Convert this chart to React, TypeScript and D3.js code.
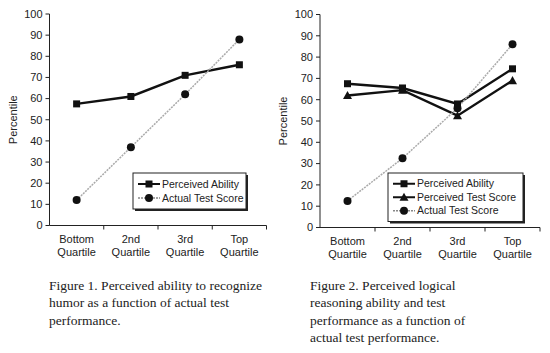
import React from "react";
import * as d3 from "d3";

const categories = ["Bottom|Quartile", "2nd|Quartile", "3rd|Quartile", "Top|Quartile"];
const yTicks = [0, 10, 20, 30, 40, 50, 60, 70, 80, 90, 100];

const fig1Perceived = [57.5, 61, 71, 76];
const fig1Actual = [12, 37, 62, 88];

const fig2PerceivedAbility = [67.5, 65.5, 58, 74.5];
const fig2PerceivedTest = [62, 64.5, 52.5, 69];
const fig2Actual = [12.5, 32.5, 56, 86];

const caption1 = ["Figure 1. Perceived ability to recognize", "humor as a function of actual test", "performance."];
const caption2 = ["Figure 2. Perceived logical", "reasoning ability and test", "performance as a function of", "actual test performance."];

type Series = { name: string; values: number[]; marker: "square" | "circle" | "triangle"; dotted: boolean };

const sansFont = "Liberation Sans, Arial, sans-serif";
const serifFont = "Liberation Serif, Times New Roman, serif";

function Marker({ type, x, y }: { type: string; x: number; y: number }) {
  if (type === "square") return <rect x={x - 3.5} y={y - 3.5} width={7} height={7} fill="#111" />;
  if (type === "circle") return <circle cx={x} cy={y} r={4} fill="#111" />;
  const s = 4.5;
  return <path d={`M${x},${y - s} L${x + s},${y + s * 0.8} L${x - s},${y + s * 0.8} Z`} fill="#111" />;
}

function Panel({ x0, x1, yTop, yBottom, series, legend }: {
  x0: number; x1: number; yTop: number; yBottom: number; series: Series[];
  legend: { x: number; y: number; w: number; rowH: number };
}) {
  const x = d3.scaleBand<string>().domain(categories).range([x0, x1]).paddingInner(0).paddingOuter(0);
  const y = d3.scaleLinear().domain([0, 100]).range([yBottom, yTop]);
  const bw = x.bandwidth();
  const cx = (c: string) => (x(c) as number) + bw / 2;
  const line = d3.line<number>().x((_, i) => cx(categories[i])).y((v) => y(v));
  const lh = legend.rowH * series.length + 8;
  return (
    <g>
      <line x1={x0} x2={x0} y1={yTop} y2={yBottom} stroke="#222" strokeWidth={1} />
      <line x1={x0} x2={x1} y1={yBottom} y2={yBottom} stroke="#222" strokeWidth={1} />
      {yTicks.map((t) => (
        <g key={t}>
          <line x1={x0 - 4} x2={x0} y1={y(t)} y2={y(t)} stroke="#222" />
          <text x={x0 - 7} y={y(t)} dy="0.35em" textAnchor="end" fontFamily={sansFont} fontSize={11} fill="#222">{t}</text>
        </g>
      ))}
      {categories.map((c) => (
        <g key={c}>
          <line x1={(x(c) as number) + bw} x2={(x(c) as number) + bw} y1={yBottom} y2={yBottom + 4} stroke="#222" />
          {c.split("|").map((part, j) => (
            <text key={j} x={cx(c)} y={yBottom + 17 + j * 13} textAnchor="middle" fontFamily={sansFont} fontSize={11} fill="#222">{part}</text>
          ))}
        </g>
      ))}
      <text transform={`translate(${x0 - 33},${(yTop + yBottom) / 2}) rotate(-90)`} textAnchor="middle" fontFamily={sansFont} fontSize={11} fill="#222">Percentile</text>
      {series.map((s) => (
        <path key={s.name} d={line(s.values) as string} fill="none"
          stroke={s.dotted ? "#aaa" : "#111"} strokeWidth={s.dotted ? 1.5 : 2.4}
          strokeDasharray={s.dotted ? "2,1" : undefined} />
      ))}
      {series.map((s) => s.values.map((v, i) => (
        <Marker key={s.name + i} type={s.marker} x={cx(categories[i])} y={y(v)} />
      )))}
      <rect x={legend.x + 2} y={legend.y + 2} width={legend.w} height={lh} fill="#222" />
      <rect x={legend.x} y={legend.y} width={legend.w} height={lh} fill="#fff" stroke="#222" strokeWidth={1} />
      {series.map((s, i) => {
        const ry = legend.y + 4 + legend.rowH * (i + 0.5);
        return (
          <g key={s.name}>
            <line x1={legend.x + 5} x2={legend.x + 27} y1={ry} y2={ry}
              stroke={s.dotted ? "#888" : "#111"} strokeWidth={s.dotted ? 1.3 : 2}
              strokeDasharray={s.dotted ? "2,1" : undefined} />
            <Marker type={s.marker} x={legend.x + 16} y={ry} />
            <text x={legend.x + 29} y={ry} dy="0.35em" fontFamily={sansFont} fontSize={10.5} fill="#222">{s.name}</text>
          </g>
        );
      })}
    </g>
  );
}

export default function App() {
  const s1: Series[] = [
    { name: "Perceived Ability", values: fig1Perceived, marker: "square", dotted: false },
    { name: "Actual Test Score", values: fig1Actual, marker: "circle", dotted: true },
  ];
  const s2: Series[] = [
    { name: "Perceived Ability", values: fig2PerceivedAbility, marker: "square", dotted: false },
    { name: "Perceived Test Score", values: fig2PerceivedTest, marker: "triangle", dotted: false },
    { name: "Actual Test Score", values: fig2Actual, marker: "circle", dotted: true },
  ];
  return (
    <svg width={550} height={353} style={{ position: "absolute", left: 0, top: 0, background: "#fff" }}>
      <rect width={550} height={353} fill="#fff" />
      <Panel x0={49.5} x1={266.5} yTop={14} yBottom={225.5} series={s1} legend={{ x: 133, y: 173, w: 113, rowH: 14 }} />
      <Panel x0={320} x1={540} yTop={14.5} yBottom={227.5} series={s2} legend={{ x: 388, y: 173, w: 135, rowH: 13.5 }} />
      {caption1.map((t, i) => (
        <text key={i} x={49} y={289.5 + i * 17.5} fontFamily={serifFont} fontSize={13.5} fill="#222">{t}</text>
      ))}
      {caption2.map((t, i) => (
        <text key={i} x={310} y={289.5 + i * 17.5} fontFamily={serifFont} fontSize={13.5} fill="#222">{t}</text>
      ))}
    </svg>
  );
}
